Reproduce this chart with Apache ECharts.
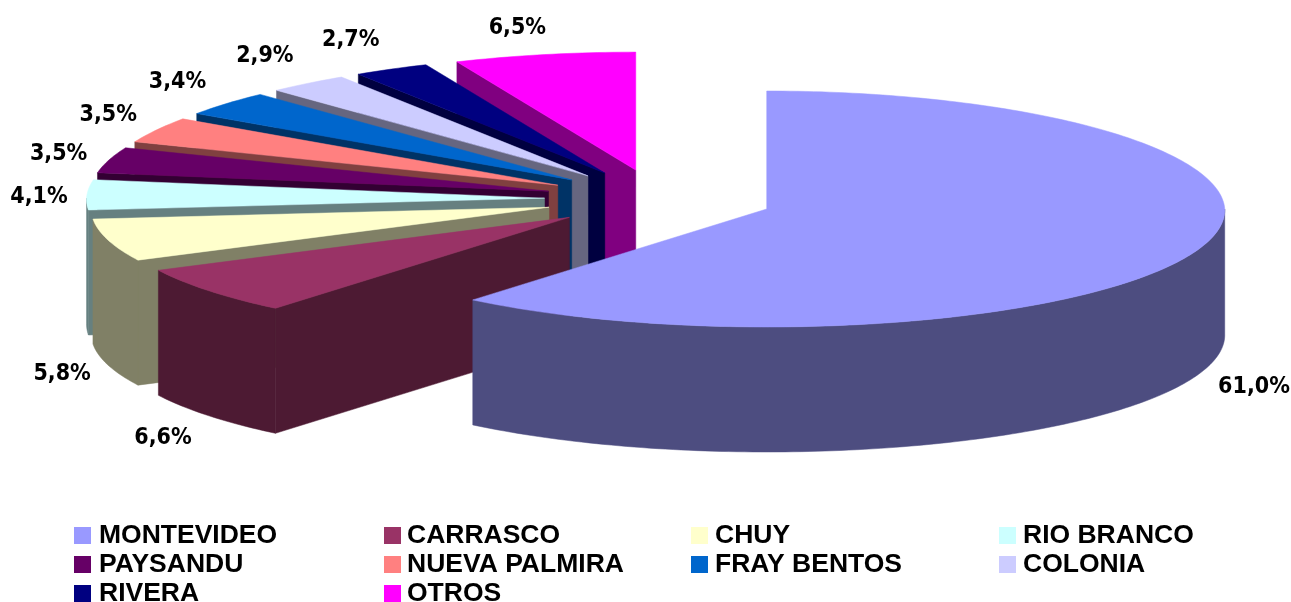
<!DOCTYPE html>
<html>
<head>
<meta charset="utf-8">
<title>Pie</title>
<style>
html, body { margin: 0; padding: 0; background: #fff; }
#main { width: 1291px; height: 602px; }
</style>
<script src="https://cdn.jsdelivr.net/npm/echarts@6/dist/echarts.min.js"></script>
</head>
<body>
<div id="main"></div>
<script>
var categories = ['MONTEVIDEO', 'CARRASCO', 'CHUY', 'RIO BRANCO', 'PAYSANDU', 'NUEVA PALMIRA', 'FRAY BENTOS', 'COLONIA', 'RIVERA', 'OTROS'];
var values = [61.0, 6.6, 5.8, 4.1, 3.5, 3.5, 3.4, 2.9, 2.7, 6.5];
var colors = ['#9999FF', '#993366', '#FFFFCC', '#CCFFFF', '#660066', '#FF8080', '#0066CC', '#CCCCFF', '#000080', '#FF00FF'];

// pie layout
var cx = 659, cy = 199, rx = 458, ry = 118, depth = 125, explode = 0.25;
// back of the pie a little narrower, front a little wider (perspective)
var narrowBack = 0.018, widenFront = 0.009;
// label distance from the rim, then a small per-slice correction
var labelA = 50, labelB = 28;
var labelNudge = [[8, 4], [-7, 5], [2, 1], [2, 3], [-2, 1], [-4, -2], [-11, -3], [-12, -5], [-17, -4], [-17, 1]];

var total = values.reduce(function (a, b) { return a + b; }, 0);

function rad(t) { return t * Math.PI / 180; }

function darken(c) {
    var p = echarts.color.parse(c);
    return 'rgb(' + [Math.round(p[0] / 2), Math.round(p[1] / 2), Math.round(p[2] / 2)].join(',') + ')';
}

function rim(ax, ay, t) {
    var c = Math.cos(rad(t));
    var persp = c > 0 ? narrowBack : widenFront;
    return [ax + Math.sin(rad(t)) * rx * (1 - persp * c), ay - c * ry];
}

function arc(ax, ay, from, to, dy) {
    var pts = [];
    var n = Math.max(2, Math.ceil(Math.abs(to - from)));
    for (var k = 0; k <= n; k++) {
        var p = rim(ax, ay, from + (to - from) * k / n);
        pts.push([p[0], p[1] + dy]);
    }
    return pts;
}

function makeRender(i) {
    var before = 0;
    for (var j = 0; j < i; j++) before += values[j];

    return function (params, api) {
        var start = before / total * 360;
        var end = (before + api.value(0)) / total * 360;
        var mid = (start + end) / 2;
        var ax = cx + Math.sin(rad(mid)) * rx * explode;
        var ay = cy - Math.cos(rad(mid)) * ry * explode;
        var top = api.visual('color');
        var side = darken(top);
        var children = [];

        function wall(points) {
            children.push({
                type: 'polygon',
                shape: { points: points },
                style: { fill: side, stroke: side, lineWidth: 0.5 }
            });
        }

        function radial(t) {
            var p = rim(ax, ay, t);
            wall([[ax, ay], p, [p[0], p[1] + depth], [ax, ay + depth]]);
        }

        // radial walls facing the viewer
        if (start > 180) radial(start);
        if (end < 180) radial(end);

        // curved outer wall, front half only
        var a = Math.max(start, 90), b = Math.min(end, 270);
        if (b > a) {
            wall(arc(ax, ay, a, b, 0).concat(arc(ax, ay, b, a, depth)));
        }

        children.push({
            type: 'polygon',
            shape: { points: [[ax, ay]].concat(arc(ax, ay, start, end, 0)) },
            style: { fill: top, stroke: top, lineWidth: 0.5 }
        });

        var edge = rim(ax, ay, mid);
        var front = Math.cos(rad(mid)) < 0 ? depth : 0;
        children.push({
            type: 'text',
            style: {
                x: edge[0] + Math.sin(rad(mid)) * labelA + labelNudge[i][0],
                y: edge[1] + front - Math.cos(rad(mid)) * labelB + labelNudge[i][1],
                text: api.value(0).toFixed(1).replace('.', ',') + '%',
                align: 'center',
                verticalAlign: 'middle',
                fill: '#000',
                font: 'bold 23px "DejaVu Sans Condensed"'
            }
        });

        return { type: 'group', children: children };
    };
}

// back slices first, MONTEVIDEO last
var series = [];
for (var i = values.length - 1; i >= 0; i--) {
    series.push({
        name: categories[i],
        type: 'custom',
        coordinateSystem: 'none',
        renderItem: makeRender(i),
        itemStyle: { color: colors[i] },
        data: [[values[i]]],
        silent: true
    });
}

function legendColumn(x, textPad, names) {
    return {
        orient: 'vertical',
        left: x,
        top: 521,
        height: 120,
        data: names,
        icon: 'rect',
        itemWidth: 17,
        itemHeight: 17,
        itemGap: 0,
        padding: 0,
        selectedMode: false,
        textStyle: {
            color: '#000',
            fontFamily: 'Liberation Sans',
            fontWeight: 'bold',
            fontSize: 26.5,
            lineHeight: 29,
            padding: [0, 0, 0, textPad]
        }
    };
}

var chart = echarts.init(document.getElementById('main'), null, { renderer: 'canvas' });
chart.setOption({
    animation: false,
    backgroundColor: '#fff',
    legend: [
        legendColumn(74, 3, [categories[0], categories[4], categories[8]]),
        legendColumn(384, 1, [categories[1], categories[5], categories[9]]),
        legendColumn(691, 2, [categories[2], categories[6]]),
        legendColumn(999, 2, [categories[3], categories[7]])
    ],
    series: series
});
</script>
</body>
</html>
